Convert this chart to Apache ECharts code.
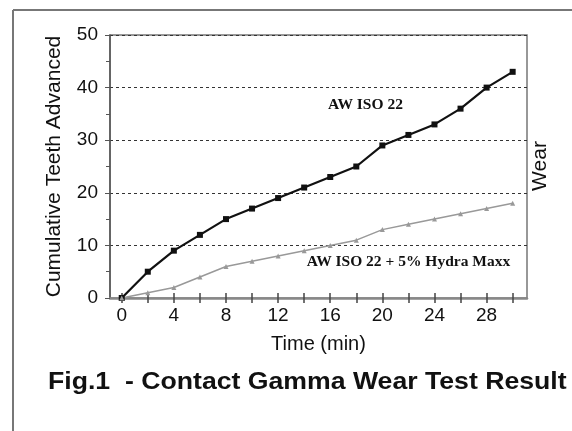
<!DOCTYPE html>
<html>
<head>
<meta charset="utf-8">
<script src="https://cdn.jsdelivr.net/npm/echarts@6/dist/echarts.min.js"></script>
<style>
  html, body { margin: 0; padding: 0; background: #fff; }
  #chart { width: 572px; height: 431px; }
</style>
</head>
<body>
<div id="chart"></div>
<script>
// time in minutes
var times = [0, 2, 4, 6, 8, 10, 12, 14, 16, 18, 20, 22, 24, 26, 28, 30];
// AW ISO 22
var baseOil = [0, 5, 9, 12, 15, 17, 19, 21, 23, 25, 29, 31, 33, 36, 40, 43];
// AW ISO 22 + 5% Hydra Maxx
var hydraMaxx = [0, 1, 2, 4, 6, 7, 8, 9, 10, 11, 13, 14, 15, 16, 17, 18];
var xTickValues = [0, 2, 4, 6, 8, 10, 12, 14, 16, 18, 20, 22, 24, 26, 28, 30];
var xLabelValues = [0, 4, 8, 12, 16, 20, 24, 28];

function pairs(xs, ys)
{
    var out = [];
    for (var i = 0; i < xs.length; i++) {
        out.push([xs[i], ys[i]]);
    }
    return out;
}

var sans = '"Liberation Sans", Arial, sans-serif';
var serif = '"Liberation Serif", "Times New Roman", serif';

var option = {
    backgroundColor: '#fff',
    animation: false,
    grid: {
        left: 110, top: 35, right: 45, bottom: 133,
        show: true, borderColor: '#777', borderWidth: 1.5, backgroundColor: 'transparent'
    },
    xAxis: [
        {
            type: 'value', min: -0.9, max: 31.1,
            name: 'Time (min)', nameLocation: 'middle', nameGap: 36,
            nameTextStyle: { fontFamily: sans, fontSize: 20, color: '#111' },
            axisLine: { lineStyle: { color: '#888', width: 2.5 } },
            axisTick: { show: true, length: 5, customValues: xTickValues, lineStyle: { color: '#444', width: 1.5 } },
            axisLabel: { customValues: xLabelValues, margin: 8, fontFamily: sans, fontSize: 19, color: '#111' },
            splitLine: { show: false }
        },
        {
            type: 'value', min: -0.9, max: 31.1, position: 'bottom',
            axisLine: { show: false },
            axisTick: { show: true, inside: true, length: 5, customValues: xTickValues, lineStyle: { color: '#444', width: 1.5 } },
            axisLabel: { show: false },
            splitLine: { show: false }
        }
    ],
    yAxis: [
        {
            type: 'value', min: 0, max: 50, interval: 10,
            name: 'Cumulative Teeth Advanced', nameLocation: 'middle', nameGap: 45,
            nameTextStyle: { fontFamily: sans, fontSize: 21, color: '#111' },
            axisLine: { show: true, onZero: false, lineStyle: { color: '#555', width: 1.5 } },
            axisTick: { show: true, length: 5, lineStyle: { color: '#555' } },
            minorTick: { show: true, splitNumber: 2, length: 4, lineStyle: { color: '#555' } },
            axisLabel: { margin: 12, fontFamily: sans, fontSize: 19, color: '#111' },
            splitLine: { show: true, lineStyle: { color: '#333', type: [3, 3], width: 1 } }
        }
    ],
    graphic: [
        { type: 'line', shape: { x1: 13, y1: 10, x2: 572, y2: 10 }, style: { stroke: '#777', lineWidth: 2 } },
        { type: 'line', shape: { x1: 13, y1: 10, x2: 13, y2: 431 }, style: { stroke: '#777', lineWidth: 2 } },
        {
            type: 'text', x: 540, y: 166, rotation: Math.PI / 2,
            style: { text: 'Wear', font: '21px ' + sans, fill: '#111', align: 'center', verticalAlign: 'middle' }
        },
        {
            type: 'text', x: 48, y: 382, scaleX: 1.11,
            style: { text: 'Fig.1  - Contact Gamma Wear Test Result', font: 'bold 24px ' + sans,
                fill: '#111', align: 'left', verticalAlign: 'middle' }
        }
    ],
    series: [
        {
            name: 'AW ISO 22',
            type: 'line',
            data: pairs(times, baseOil),
            symbol: 'rect', symbolSize: 6,
            itemStyle: { color: '#111' },
            lineStyle: { color: '#111', width: 2.2 },
            markPoint: {
                symbol: 'circle', symbolSize: 0,
                label: { show: true, position: 'inside', formatter: 'AW ISO 22',
                    fontFamily: serif, fontWeight: 'bold', fontSize: 15.5, color: '#111' },
                data: [{ coord: [18.7, 36.7] }]
            }
        },
        {
            name: 'AW ISO 22 + 5% Hydra Maxx',
            type: 'line',
            data: pairs(times, hydraMaxx),
            symbol: 'triangle', symbolSize: 5,
            itemStyle: { color: '#999' },
            lineStyle: { color: '#999', width: 1.5 },
            markPoint: {
                symbol: 'circle', symbolSize: 0,
                label: { show: true, position: 'inside', formatter: 'AW ISO 22 + 5% Hydra Maxx',
                    fontFamily: serif, fontWeight: 'bold', fontSize: 15.5, color: '#111' },
                data: [{ coord: [22.0, 6.8] }]
            }
        }
    ]
};

var myChart = echarts.init(document.getElementById('chart'));
myChart.setOption(option);
</script>
</body>
</html>
